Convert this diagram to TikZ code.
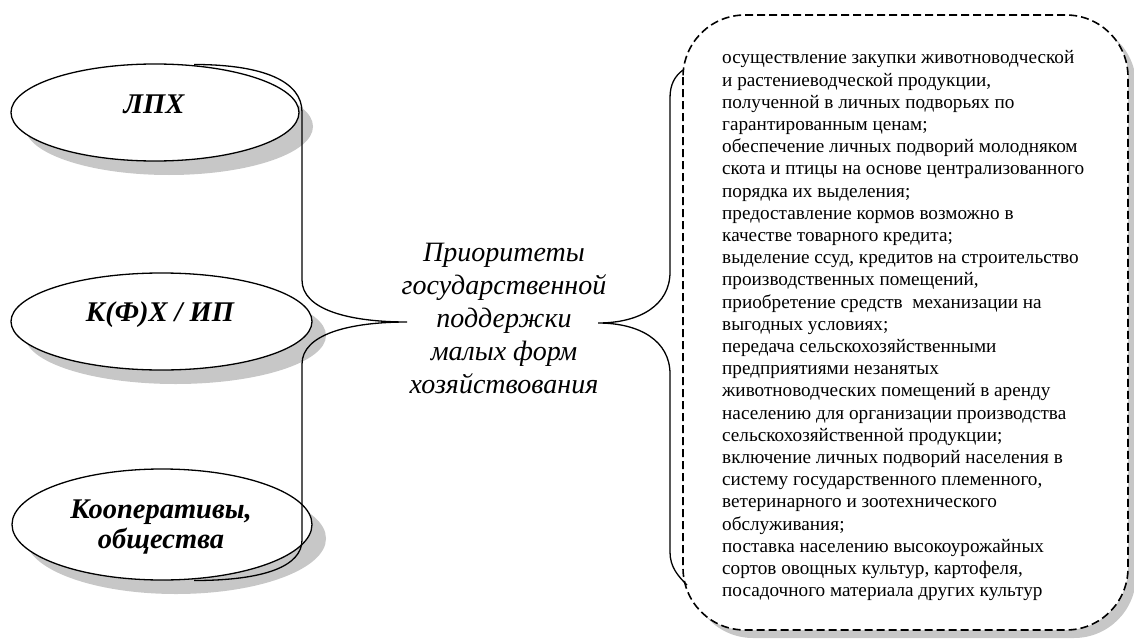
\documentclass[tikz,border=0pt]{standalone}
\usepackage{fontspec}
\setmainfont{Liberation Serif}[BoldItalicFont={Liberation Serif Bold Italic}]
\usetikzlibrary{shapes.geometric,shadows}
\tikzset{
  oval/.style={ellipse, draw=black, line width=1.3pt, fill=white, inner sep=0pt,
    general shadow={shadow xshift=14pt, shadow yshift=-14pt, fill=black!22}},
  ovallabel/.style={font=\fontsize{28.5}{30}\selectfont\bfseries\itshape, align=center, inner sep=0pt},
  brace/.style={draw=black, line width=1.3pt},
  listbox/.style={draw=black, line width=1.6pt, dash pattern=on 8pt off 4pt, fill=white,
    rounded corners=62pt,
    general shadow={shadow xshift=8pt, shadow yshift=-8pt, fill=black!22}},
  center/.style={font=\fontsize{28}{33}\selectfont\itshape, align=center, inner sep=0pt},
  listtext/.style={font=\fontsize{19.2}{22.2}\selectfont, align=left, inner sep=0pt, anchor=north west}
}
\begin{document}
\begin{tikzpicture}[x=1pt,y=-1pt]
\useasboundingbox (0,0) rectangle (1134,642);
% dashed list box
\path[listbox] (683,15) rectangle (1128,630);
\node[listtext] (list) at (722,50.5) {осуществление закупки животноводческой\\
и растениеводческой продукции,\\
полученной в личных подворьях по\\
гарантированным ценам;\\
обеспечение личных подворий молодняком\\
скота и птицы на основе централизованного\\
порядка их выделения;\\
предоставление кормов возможно в\\
качестве товарного кредита;\\
выделение ссуд, кредитов на строительство\\
производственных помещений,\\
приобретение средств\ \ механизации на\\
выгодных условиях;\\
передача сельскохозяйственными\\
предприятиями незанятых\\
животноводческих помещений в аренду\\
населению для организации производства\\
сельскохозяйственной продукции;\\
включение личных подворий населения в\\
систему государственного племенного,\\
ветеринарного и зоотехнического\\
обслуживания;\\
поставка населению высокоурожайных\\
сортов овощных культур, картофеля,\\
посадочного материала других культур};
% ellipses
\node[oval, minimum width=288pt, minimum height=97pt] (lph) at (155,112.5) {};
\node[oval, minimum width=301pt, minimum height=97pt] (kfh) at (161.5,321.5) {};
\node[oval, minimum width=300pt, minimum height=111pt] (coop) at (162,524.5) {};
\node[ovallabel] (lphT) at (154,104) {ЛПХ};
\node[ovallabel] (kfhT) at (160,315) {К(Ф)Х / ИП};
\node[ovallabel] (coopT) at (161,527) {Кооперативы,\\общества};
% center text
\node[center] (prio) at (504,318) {Приоритеты\\государственной\\поддержки\\малых форм\\хозяйствования};
% braces
\coordinate (lb1) at (194,64.5);
\coordinate (lb2) at (194,580.5);
\coordinate (ltip) at (407,322);
\coordinate (rb1) at (683,70);
\coordinate (rb2) at (687,585);
\coordinate (rtip) at (598,323);
\draw[brace] (lb1) .. controls (265,64.5) and (302,82) .. (302,112) -- (302,280)
  .. controls (302,310) and (350,322) .. (ltip)
  .. controls (350,322) and (302,334) .. (302,364) -- (302,540)
  .. controls (302,566) and (265,580.5) .. (lb2);
\draw[brace] (rb1) .. controls (675,76) and (670,84) .. (670,98) -- (670,272)
  .. controls (670,305) and (640,323) .. (rtip)
  .. controls (640,323) and (670,341) .. (670,374) -- (670,552)
  .. controls (670,567) and (678,576) .. (rb2);
\end{tikzpicture}
\end{document}
